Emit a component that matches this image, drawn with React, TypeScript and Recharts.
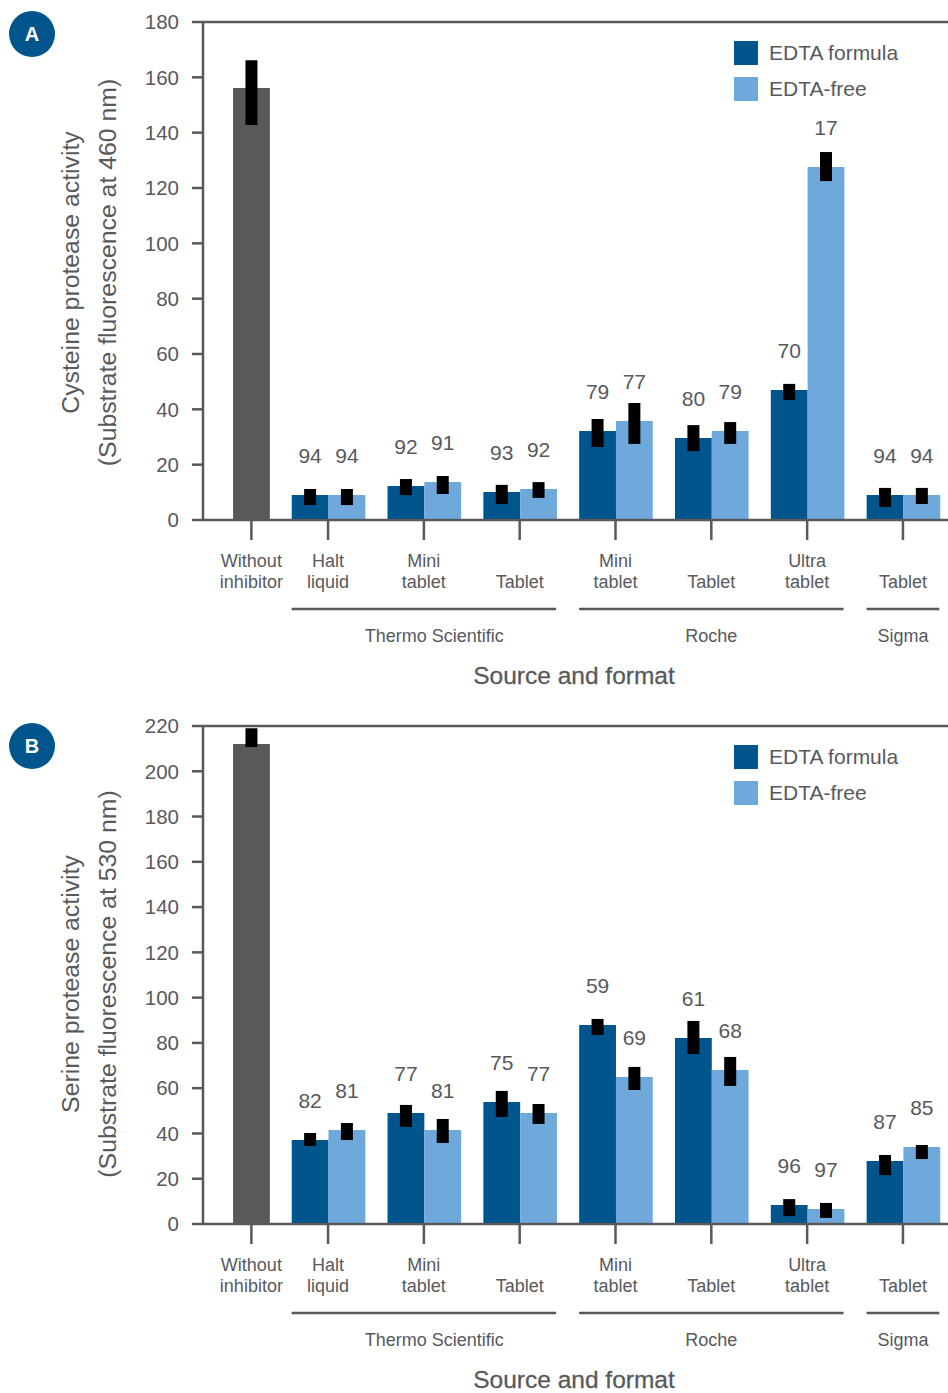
import { BarChart, Bar, XAxis, YAxis, ErrorBar, LabelList, Label, Legend, ReferenceLine } from "recharts";

const INK = "#58595b";
const DARK_BLUE = "#00558c";
const LIGHT_BLUE = "#6fa9dc";
const FONT = "'Liberation Sans', Arial, sans-serif";

// slot positions along the x axis: "Without inhibitor" sits closer to its neighbour
const positions = [-0.8, 0, 1, 2, 3, 4, 5, 6];
const categoryLines = [
  ["Without", "inhibitor"],
  ["Halt", "liquid"],
  ["Mini", "tablet"],
  ["", "Tablet"],
  ["Mini", "tablet"],
  ["", "Tablet"],
  ["Ultra", "tablet"],
  ["", "Tablet"],
];
const groupNames = ["Thermo Scientific", "Roche", "Sigma"];
const groupCenters = [1, 4, 6];
const groupHalfSpans = [1.38, 1.38, 0.38];
const groupLabelShift = [10.5, 0, 0];

// Panel A, cysteine protease
const ticksA = [0, 20, 40, 60, 80, 100, 120, 140, 160, 180];
const withoutA = [156.1, 142.8, 166.2];
const formulaA = [9.0, 12.3, 10.1, 32.2, 29.6, 47.0, 9.0];
const formulaLowA = [5.4, 9.0, 5.8, 26.4, 24.9, 43.4, 4.7];
const formulaHighA = [11.2, 14.8, 12.7, 36.5, 34.3, 49.2, 11.6];
const formulaPctA = [94, 92, 93, 79, 80, 70, 94];
const freeA = [9.0, 13.7, 11.2, 35.8, 32.2, 127.6, 9.0];
const freeLowA = [5.4, 9.4, 8.0, 27.5, 27.5, 122.5, 5.8];
const freeHighA = [11.2, 15.9, 13.7, 42.3, 35.4, 133.0, 11.6];
const freePctA = [94, 91, 92, 77, 79, 17, 94];

// Panel B, serine protease
const ticksB = [0, 20, 40, 60, 80, 100, 120, 140, 160, 180, 200, 220];
const withoutB = [212, 210.7, 219];
const formulaB = [37.1, 49.0, 53.9, 87.9, 82.2, 8.4, 27.8];
const formulaLowB = [34.5, 42.9, 47.3, 83.5, 75.1, 3.5, 21.6];
const formulaHighB = [40.2, 52.6, 58.8, 90.6, 89.7, 11.0, 30.5];
const formulaPctB = [82, 77, 75, 59, 61, 96, 87];
const freeB = [41.5, 41.5, 49.0, 64.9, 68.0, 6.6, 34.0];
const freeLowB = [37.1, 35.8, 44.2, 59.2, 61.0, 2.7, 28.7];
const freeHighB = [44.6, 46.4, 53.0, 69.4, 73.8, 9.3, 34.9];
const freePctB = [81, 81, 77, 69, 68, 97, 85];

const xDomain = [-1.305, 6.47];
const SLOT_PX = 95.8;

function buildRows(
  without: number[],
  formula: number[],
  formulaLow: number[],
  formulaHigh: number[],
  formulaPct: number[],
  free: number[],
  freeLow: number[],
  freeHigh: number[],
  freePct: number[],
) {
  const first = {
    pos: positions[0],
    without: without[0],
    withoutErr: [without[0] - without[1], without[2] - without[0]],
  };
  const rest = formula.map((value, i) => ({
    pos: positions[i + 1],
    formula: value,
    formulaErr: [value - formulaLow[i], formulaHigh[i] - value],
    formulaPct: formulaPct[i],
    free: free[i],
    freeErr: [free[i] - freeLow[i], freeHigh[i] - free[i]],
    freePct: freePct[i],
  }));
  return [first, ...rest];
}

function CategoryTick({ x, y, index }: any) {
  const lines = categoryLines[index];
  return (
    <text x={x} textAnchor="middle" fontSize={18} fill={INK} fontFamily={FONT}>
      <tspan x={x} y={y + 25}>{lines[0]}</tspan>
      <tspan x={x} y={y + 46}>{lines[1]}</tspan>
    </text>
  );
}

function GroupTick({ x, y, index }: any) {
  const half = groupHalfSpans[index] * SLOT_PX;
  return (
    <g>
      <line x1={x - half} x2={x + half} y1={y + 9} y2={y + 9} stroke={INK} strokeWidth={2.5} />
      <text x={x + groupLabelShift[index]} y={y + 42} textAnchor="middle" fontSize={18} fill={INK} fontFamily={FONT}>
        {groupNames[index]}
      </text>
    </g>
  );
}

function YTitle({ viewBox, lines, shift }: any) {
  const cy = viewBox.y + viewBox.height / 2 + shift;
  return (
    <g fontSize={24.8} fill={INK} fontFamily={FONT} textAnchor="middle">
      <text transform={`translate(79 ${cy}) rotate(-90)`}>{lines[0]}</text>
      <text transform={`translate(116 ${cy}) rotate(-90)`}>{lines[1]}</text>
    </g>
  );
}

function LegendBox({ payload }: any) {
  const items = (payload || []).filter((p: any) => p.value !== "Without inhibitor");
  return (
    <div>
      {items.map((p: any) => (
        <div key={p.value} style={{ display: "flex", alignItems: "center", height: 36 }}>
          <div style={{ width: 24, height: 24, background: p.color, marginRight: 11 }} />
          <span style={{ fontSize: 21, color: INK, fontFamily: FONT, whiteSpace: "nowrap" }}>{p.value}</span>
        </div>
      ))}
    </div>
  );
}

type PanelProps = {
  letter: string;
  top: number;
  badgeTop: number;
  titleShift: number;
  rows: any[];
  yTicks: number[];
  yTitle: string[];
};

function Panel({ letter, top, badgeTop, titleShift, rows, yTicks, yTitle }: PanelProps) {
  const yMax = yTicks[yTicks.length - 1];
  return (
    <div style={{ position: "absolute", left: 0, top, width: 948, height: 689 }}>
      <BarChart
        width={948}
        height={689}
        data={rows}
        barGap={0}
        barSize={36.8}
        margin={{ top: 22, right: 0, bottom: 0, left: 0 }}
      >
        <YAxis
          type="number"
          domain={[0, yMax]}
          ticks={yTicks}
          width={203}
          tickSize={11}
          tickMargin={13}
          interval={0}
          stroke={INK}
          strokeWidth={2.5}
          tick={{ fontSize: 20.5, fill: INK, fontFamily: FONT }}
        >
          <Label content={<YTitle lines={yTitle} shift={titleShift} />} />
        </YAxis>
        <XAxis
          dataKey="pos"
          type="number"
          domain={xDomain}
          ticks={positions}
          interval={0}
          height={80}
          tickSize={20}
          stroke={INK}
          strokeWidth={2.5}
          tick={<CategoryTick />}
        />
        <XAxis
          xAxisId="groups"
          dataKey="pos"
          type="number"
          domain={xDomain}
          ticks={groupCenters}
          interval={0}
          height={89}
          tickSize={0}
          tickMargin={0}
          axisLine={false}
          tickLine={false}
          tick={<GroupTick />}
        >
          <Label
            value="Source and format"
            position="insideBottom"
            offset={5}
            dx={-1.5}
            style={{ fontSize: 24.5, fill: INK, fontFamily: FONT, stroke: INK, strokeWidth: 0.3 }}
          />
        </XAxis>
        <XAxis xAxisId="solo" dataKey="pos" type="number" domain={xDomain} ticks={positions} hide />
        <ReferenceLine y={yMax} stroke={INK} strokeWidth={2.5} ifOverflow="visible" />
        <Legend
          layout="vertical"
          align="center"
          verticalAlign="middle"
          content={<LegendBox />}
          wrapperStyle={{ position: "absolute", left: 734, top: 35, width: 200 }}
        />
        <Bar xAxisId="solo" name="Without inhibitor" dataKey="without" fill={INK} isAnimationActive={false}>
          <ErrorBar dataKey="withoutErr" width={0} stroke="#000" strokeWidth={12} isAnimationActive={false} />
        </Bar>
        <Bar name="EDTA formula" dataKey="formula" fill={DARK_BLUE} isAnimationActive={false}>
          <ErrorBar dataKey="formulaErr" width={0} stroke="#000" strokeWidth={12} isAnimationActive={false} />
          <LabelList dataKey="formulaPct" position="top" offset={32} style={{ fontSize: 21, fill: INK, fontFamily: FONT }} />
        </Bar>
        <Bar name="EDTA-free" dataKey="free" fill={LIGHT_BLUE} isAnimationActive={false}>
          <ErrorBar dataKey="freeErr" width={0} stroke="#000" strokeWidth={12} isAnimationActive={false} />
          <LabelList dataKey="freePct" position="top" offset={32} style={{ fontSize: 21, fill: INK, fontFamily: FONT }} />
        </Bar>
      </BarChart>
      <div
        style={{
          position: "absolute",
          left: 9,
          top: badgeTop,
          width: 46,
          height: 46,
          borderRadius: 23,
          background: DARK_BLUE,
          color: "#fff",
          fontFamily: FONT,
          fontSize: 20,
          fontWeight: 700,
          lineHeight: "46px",
          textAlign: "center",
        }}
      >
        {letter}
      </div>
    </div>
  );
}

export default function App() {
  const rowsA = buildRows(withoutA, formulaA, formulaLowA, formulaHighA, formulaPctA, freeA, freeLowA, freeHighA, freePctA);
  const rowsB = buildRows(withoutB, formulaB, formulaLowB, formulaHighB, formulaPctB, freeB, freeLowB, freeHighB, freePctB);
  return (
    <div style={{ position: "absolute", left: 0, top: 0, width: 948, height: 1393, overflow: "hidden", background: "#fff" }}>
      <Panel
        letter="A"
        top={0}
        badgeTop={11}
        titleShift={1.5}
        rows={rowsA}
        yTicks={ticksA}
        yTitle={["Cysteine protease activity", "(Substrate fluorescence at 460 nm)"]}
      />
      <Panel
        letter="B"
        top={704}
        badgeTop={19}
        titleShift={9}
        rows={rowsB}
        yTicks={ticksB}
        yTitle={["Serine protease activity", "(Substrate fluorescence at 530 nm)"]}
      />
    </div>
  );
}
